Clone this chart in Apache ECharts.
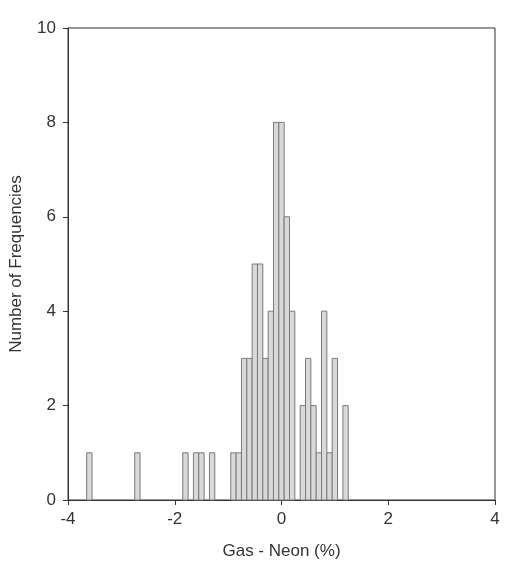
<!DOCTYPE html>
<html>
<head>
<meta charset="utf-8">
<script src="https://cdn.jsdelivr.net/npm/echarts@6/dist/echarts.min.js"></script>
<style>html,body{margin:0;padding:0;background:#fff;}#c{width:510px;height:582px;}</style>
</head>
<body>
<div id="c"></div>
<script>
// Bin centres (Gas - Neon, %) and counts
var binCenters = [-3.6, -2.7, -1.8, -1.6, -1.5, -1.3, -0.9, -0.8, -0.7, -0.6, -0.5, -0.4, -0.3, -0.2, -0.1, 0.0, 0.1, 0.2, 0.4, 0.5, 0.6, 0.7, 0.8, 0.9, 1.0, 1.2];
var counts     = [1,    1,    1,    1,    1,    1,    1,    1,    3,    3,    5,    5,    3,    4,    8,    8,   6,   4,   2,   3,   2,   1,   4,   1,   3,   2];
var binWidth = 0.1;
var xTicks = [-4, -2, 0, 2, 4];
var yTicks = [0, 2, 4, 6, 8, 10];

var data = binCenters.map(function (c, i) { return [c, counts[i]]; });
var font = 'Liberation Sans, Arial, sans-serif';

var chart = echarts.init(document.getElementById('c'));
chart.setOption({
  animation: false,
  backgroundColor: '#fff',
  grid: { left: 67, right: 15, top: 28, bottom: 82, show: true, borderColor: '#333', borderWidth: 1, backgroundColor: 'transparent' },
  xAxis: {
    type: 'value', min: xTicks[0], max: xTicks[xTicks.length - 1], interval: 2,
    name: 'Gas - Neon (%)', nameLocation: 'middle', nameGap: 43,
    nameTextStyle: { fontFamily: font, fontSize: 17, color: '#333' },
    axisLine: { show: true, onZero: false, lineStyle: { color: '#333', width: 1 } },
    axisTick: { show: true, inside: false, length: 5, lineStyle: { color: '#333' } },
    axisLabel: { fontFamily: font, fontSize: 17, color: '#333', margin: 11 },
    splitLine: { show: false }
  },
  yAxis: {
    type: 'value', min: yTicks[0], max: yTicks[yTicks.length - 1], interval: 2,
    name: 'Number of Frequencies', nameLocation: 'middle', nameGap: 43,
    nameTextStyle: { fontFamily: font, fontSize: 17, color: '#333' },
    axisLine: { show: true, onZero: false, lineStyle: { color: '#333', width: 1 } },
    axisTick: { show: true, inside: false, length: 5, lineStyle: { color: '#333' } },
    axisLabel: { fontFamily: font, fontSize: 17, color: '#333', margin: 12 },
    splitLine: { show: false }
  },
  series: [{
    type: 'custom',
    data: data,
    encode: { x: 0, y: 1 },
    renderItem: function (params, api) {
      var c = api.value(0), v = api.value(1);
      var p0 = api.coord([c - binWidth / 2, 0]);
      var p1 = api.coord([c + binWidth / 2, v]);
      return {
        type: 'rect',
        shape: { x: p0[0], y: p1[1], width: p1[0] - p0[0], height: p0[1] - p1[1] },
        style: { fill: '#d9d9d9', stroke: '#7a7a7a', lineWidth: 1 }
      };
    }
  }]
});
</script>
</body>
</html>
